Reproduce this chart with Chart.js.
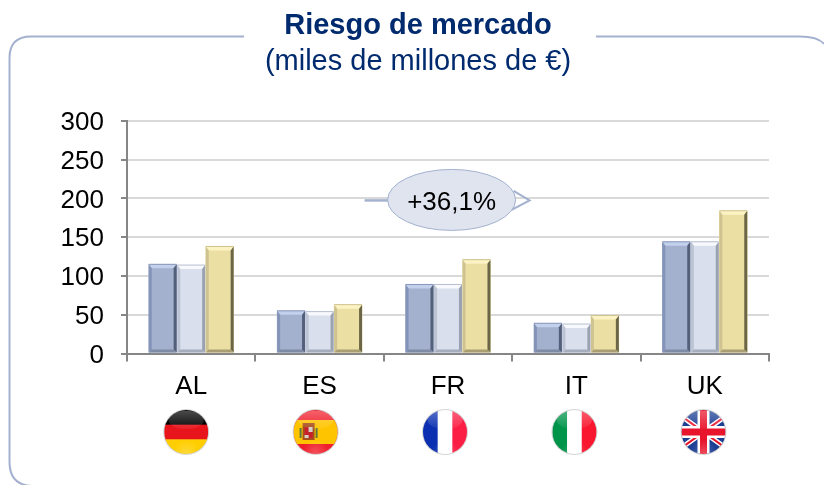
<!DOCTYPE html>
<html><head><meta charset="utf-8">
<style>html,body{margin:0;padding:0;background:#fff;overflow:hidden}#w{position:absolute;left:0;top:0;width:824px;height:485px}</style>
<script src="https://cdn.jsdelivr.net/npm/chart.js@4/dist/chart.umd.min.js"></script>
</head><body><div id="w"><canvas id="c" width="824" height="485"></canvas></div>
<script>
const categories = ["AL","ES","FR","IT","UK"];
const series1 = [115,55,89,39,144];
const series2 = [114,54,89,38,144];
const series3 = [138,63,121,49,184];
const yTicks = [0,50,100,150,200,250,300];
const titleText = "Riesgo de mercado";
const subtitleText = "(miles de millones de €)";
const calloutText = "+36,1%";
const calloutValue = 198;
const flagOffsets = [-5,-4,-3,-2,-1.3];
const FONT = '"Liberation Sans", Arial, sans-serif';
const NAVY = '#002a6e';
const BLUE_LINE = '#a3b1cf';
const bevels = [
 {edge:'#8797ba',top:'#c3d0ec',left:'#8494b8',right:'#545f7a',bottom:'#7f8ba5'},
 {edge:'#b6bece',top:'#f8f9fd',left:'#bcc4d4',right:'#9aa2b2',bottom:'#a5adbd'},
 {edge:'#cfc38f',top:'#fbf3c4',left:'#cfc491',right:'#6c6648',bottom:'#a89e72'}
];

function roundFrame(ctx){
  ctx.save();ctx.strokeStyle=BLUE_LINE;ctx.lineWidth=2;ctx.beginPath();
  ctx.moveTo(244,36.5);ctx.lineTo(31,36.5);ctx.quadraticCurveTo(9.5,36.5,9.5,58);
  ctx.lineTo(9.5,462);ctx.quadraticCurveTo(9.5,485,32,486);
  ctx.moveTo(596,36.5);ctx.lineTo(800,36.5);ctx.quadraticCurveTo(818,36.5,824,44);
  ctx.stroke();ctx.restore();
}
function bevelBars(chart){
  const ctx=chart.ctx;
  chart.data.datasets.forEach((d,di)=>{
    chart.getDatasetMeta(di).data.forEach(b=>{
      const l=b.x-b.width/2+.3,r=b.x+b.width/2-.3,t=b.y,bt=b.base,k=3,c=bevels[di];
      const poly=(col,p)=>{ctx.fillStyle=col;ctx.beginPath();p.forEach((q,i)=>i?ctx.lineTo(q[0],q[1]):ctx.moveTo(q[0],q[1]));ctx.closePath();ctx.fill();};
      poly(c.top,[[l,t],[r,t],[r-k,t+k+1],[l+k,t+k+1]]);
      poly(c.left,[[l,t],[l+k,t+k+1],[l+k,bt-k],[l,bt]]);
      poly(c.right,[[r,t],[r-k,t+k+1],[r-k,bt-k],[r,bt]]);
      poly(c.bottom,[[l,bt],[l+k,bt-k],[r-k,bt-k],[r,bt]]);
      ctx.fillStyle=c.edge;ctx.fillRect(l,t-.5,r-l,1);
    });
  });
}
function stripes(ctx,cx,cy,r,vertical,cols){
  const n=cols.length,s=2*r/n;
  cols.forEach((c,i)=>{ctx.fillStyle=c;
    if(vertical)ctx.fillRect(cx-r+i*s,cy-r,s+.5,2*r);else ctx.fillRect(cx-r,cy-r+i*s,2*r,s+.5);});
}
function drawFlag(ctx,code,cx,cy,r){
  ctx.save();
  ctx.beginPath();ctx.arc(cx,cy,r+1,0,Math.PI*2);ctx.fillStyle='#d4d4d4';ctx.fill();
  ctx.beginPath();ctx.arc(cx,cy,r,0,Math.PI*2);ctx.clip();
  if(code==='AL')stripes(ctx,cx,cy,r,false,['#000000','#e8141c','#ffce00']);
  if(code==='FR')stripes(ctx,cx,cy,r,true,['#0a2fb0','#ffffff','#fb1f45']);
  if(code==='IT')stripes(ctx,cx,cy,r,true,['#00944a','#ffffff','#f8172f']);
  if(code==='ES'){
    ctx.fillStyle='#f01f2c';ctx.fillRect(cx-r,cy-r,2*r,2*r);
    ctx.fillStyle='#ffc400';ctx.fillRect(cx-r,cy-r*.5-1,2*r,r+2);
    ctx.fillStyle='#a8501c';ctx.fillRect(cx-13,cy-9,12,17);
    ctx.fillStyle='#c8202a';ctx.fillRect(cx-11,cy-5,4,8);ctx.fillRect(cx-7,cy,4,6);
    ctx.fillStyle='#d8d0c8';ctx.fillRect(cx-7,cy-5,4,5);ctx.fillRect(cx-11,cy+3,4,3);
    ctx.fillStyle='#5d7a3a';ctx.fillRect(cx-16,cy-4,2,10);ctx.fillRect(cx,cy-4,2,10);
  }
  if(code==='UK'){
    ctx.fillStyle='#1c3f94';ctx.fillRect(cx-r,cy-r,2*r,2*r);
    ctx.lineCap='butt';
    ctx.strokeStyle='#fff';ctx.lineWidth=5;ctx.beginPath();
    ctx.moveTo(cx-r,cy-r*.72);ctx.lineTo(cx+r,cy+r*.72);ctx.moveTo(cx+r,cy-r*.72);ctx.lineTo(cx-r,cy+r*.72);ctx.stroke();
    ctx.strokeStyle='#e8142c';ctx.lineWidth=2;ctx.beginPath();
    ctx.moveTo(cx-r,cy-r*.72);ctx.lineTo(cx+r,cy+r*.72);ctx.moveTo(cx+r,cy-r*.72);ctx.lineTo(cx-r,cy+r*.72);ctx.stroke();
    ctx.fillStyle='#fff';ctx.fillRect(cx-6,cy-r,12,2*r);ctx.fillRect(cx-r,cy-6,2*r,12);
    ctx.fillStyle='#e8142c';ctx.fillRect(cx-3.5,cy-r,7,2*r);ctx.fillRect(cx-r,cy-3.5,2*r,7);
  }
  const g=ctx.createLinearGradient(0,cy-r,0,cy-r*.1);
  g.addColorStop(0,'rgba(255,255,255,.3)');g.addColorStop(1,'rgba(255,255,255,.04)');
  ctx.beginPath();ctx.ellipse(cx,cy-r*.55,r*.8,r*.42,0,0,Math.PI*2);ctx.fillStyle=g;ctx.fill();
  const g2=ctx.createRadialGradient(cx,cy+r*.95,0,cx,cy+r*.95,r*.6);
  g2.addColorStop(0,'rgba(255,255,255,.22)');g2.addColorStop(1,'rgba(255,255,255,0)');
  ctx.fillStyle=g2;ctx.fillRect(cx-r,cy-r,2*r,2*r);
  ctx.restore();
}
function callout(chart){
  const ctx=chart.ctx,x=chart.scales.x,y=chart.scales.y;
  const cx=x.getPixelForValue(2)+3.6,cy=y.getPixelForValue(calloutValue);
  ctx.save();
  ctx.strokeStyle=BLUE_LINE;ctx.lineWidth=2.5;
  ctx.beginPath();ctx.moveTo(cx-87,cy+.5);ctx.lineTo(cx-60,cy+.5);ctx.stroke();
  ctx.lineWidth=2;ctx.beginPath();ctx.moveTo(cx+62,cy-9);ctx.lineTo(cx+78,cy+.5);ctx.lineTo(cx+60,cy+10);ctx.stroke();
  ctx.beginPath();ctx.ellipse(cx,cy,64,30.5,0,0,Math.PI*2);
  ctx.fillStyle='#dfe4ef';ctx.fill();ctx.lineWidth=1;ctx.strokeStyle=BLUE_LINE;ctx.stroke();
  ctx.fillStyle='#000';ctx.font='26px '+FONT;ctx.textAlign='center';ctx.textBaseline='middle';
  ctx.fillText(calloutText,cx,cy+2.5);
  ctx.restore();
}
const overlay={id:'overlay',
  beforeDraw(chart){
    roundFrame(chart.ctx);
    const items=chart.scales.y.getLabelItems();
    items.forEach(it=>{if(!it._shifted){it.textOffset+=2;it._shifted=true;}});
  },
  afterDatasetsDraw(chart){
    bevelBars(chart);
    callout(chart);
    categories.forEach((c,i)=>drawFlag(chart.ctx,c,chart.scales.x.getPixelForValue(i)+flagOffsets[i],432,22));
  }};
const tickFont={family:FONT,size:26};
new Chart(document.getElementById('c'),{
  type:'bar',
  data:{labels:categories,datasets:[
    {data:series1,backgroundColor:'#a3b1cf'},
    {data:series2,backgroundColor:'#d9dfec'},
    {data:series3,backgroundColor:'#ecdfa3'}]},
  options:{responsive:false,animation:false,
    layout:{padding:{left:12,right:0,top:0,bottom:0}},
    datasets:{bar:{categoryPercentage:0.666,barPercentage:1}},
    plugins:{legend:{display:false},tooltip:{enabled:false},
      title:{display:true,text:titleText,color:NAVY,font:{family:FONT,size:29,weight:'bold',lineHeight:1.2},padding:{top:8.5,bottom:0}},
      subtitle:{display:true,text:subtitleText,color:NAVY,font:{family:FONT,size:29,lineHeight:1.2},padding:{top:1,bottom:41.7}}},
    scales:{
      x:{grid:{display:true,drawOnChartArea:false,color:'#868686',lineWidth:2,tickLength:8},
         border:{color:'#868686',width:2},
         ticks:{color:'#000',font:tickFont,padding:10,maxRotation:0},
         afterFit(s){s.height=131.5;}},
      y:{min:0,max:300,
         afterBuildTicks(s){s.ticks=yTicks.map(v=>({value:v}));},
         grid:{color:c=>c.tick&&c.tick.value===0?'#868686':'#d9d9d9',lineWidth:2,tickLength:6,tickColor:'#868686'},
         border:{color:'#868686',width:2},
         ticks:{color:'#000',font:tickFont,padding:17},
         afterFit(s){s.width=115;}},
      rightGutter:{position:'right',min:0,max:300,
         grid:{display:false},border:{display:false},ticks:{display:false},
         afterFit(s){s.width=55;}}
    }},
  plugins:[overlay]});
</script></body></html>
